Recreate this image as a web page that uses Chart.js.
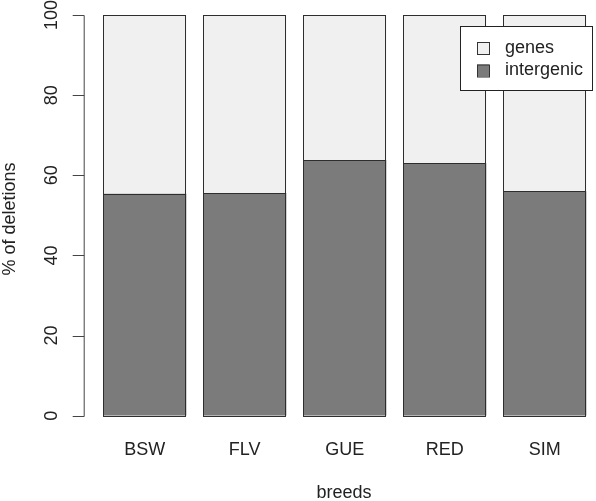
<!DOCTYPE html>
<html>
<head>
<meta charset="utf-8">
<script src="https://cdn.jsdelivr.net/npm/chart.js@4/dist/chart.umd.min.js"></script>
<style>
  html, body { margin: 0; padding: 0; background: #fff; }
  #wrap { width: 596px; height: 501px; }
</style>
</head>
<body>
<div id="wrap"><canvas id="chart" width="596" height="501"></canvas></div>
<script>
const breeds = ["BSW", "FLV", "GUE", "RED", "SIM"];
const intergenic = [55.4, 55.6, 63.8, 63.0, 56.0];
const genes = [44.6, 44.4, 36.2, 37.0, 44.0];
const yTicks = [0, 20, 40, 60, 80, 100];

const FONT = "Liberation Sans, Arial, sans-serif";

// crisp 1px outlines round each bar, like R's barplot
const barOutlinePlugin = {
  id: "barOutlinePlugin",
  afterDatasetsDraw: (chart) => {
    const { ctx } = chart;
    ctx.save();
    ctx.strokeStyle = "#2e2e2e";
    ctx.lineWidth = 1;
    chart.data.datasets.forEach((_ds, i) => {
      chart.getDatasetMeta(i).data.forEach((bar) => {
        const { x, y, base, width } = bar.getProps(["x", "y", "base", "width"], true);
        const l = Math.round(x - width / 2) + 0.5;
        const r = Math.round(x + width / 2) - 0.5;
        const t = Math.round(y) + 0.5;
        const b = Math.round(base) + 0.5;
        ctx.strokeRect(l, t, r - l, b - t);
      });
    });
    ctx.restore();
  },
};

// R base-graphics style axes, titles and legend
const rStylePlugin = {
  id: "rStylePlugin",
  afterDraw: (chart) => {
    const { ctx, chartArea, scales } = chart;
    const y = scales.y;
    const x = scales.x;
    const axisX = chartArea.left - 11;

    ctx.save();
    ctx.strokeStyle = "#444";
    ctx.lineWidth = 1;
    ctx.beginPath();
    ctx.moveTo(axisX + 0.5, Math.round(y.getPixelForValue(yTicks[0])) + 0.5);
    ctx.lineTo(axisX + 0.5, Math.round(y.getPixelForValue(yTicks[yTicks.length - 1])) + 0.5);
    yTicks.forEach((t) => {
      const py = Math.round(y.getPixelForValue(t)) + 0.5;
      ctx.moveTo(axisX + 0.5, py);
      ctx.lineTo(axisX - 11, py);
    });
    ctx.stroke();

    ctx.fillStyle = "#222";
    ctx.font = `18px ${FONT}`;
    ctx.textAlign = "center";
    ctx.textBaseline = "middle";
    yTicks.forEach((t) => {
      ctx.save();
      ctx.translate(axisX - 32, y.getPixelForValue(t));
      ctx.rotate(-Math.PI / 2);
      ctx.fillText(String(t), 0, 0);
      ctx.restore();
    });

    breeds.forEach((b, i) => {
      ctx.fillText(b, x.getPixelForValue(i), 450);
    });

    ctx.fillText("breeds", 344, 493);

    ctx.save();
    ctx.translate(10, 219);
    ctx.rotate(-Math.PI / 2);
    ctx.fillText("% of deletions", 0, 0);
    ctx.restore();

    // legend
    const lx = 460, ly = 26, lw = 132, lh = 64;
    ctx.fillStyle = "#fff";
    ctx.fillRect(lx, ly, lw, lh);
    ctx.strokeStyle = "#222";
    ctx.strokeRect(lx + 0.5, ly + 0.5, lw, lh);
    const items = [chart.data.datasets[1], chart.data.datasets[0]];
    items.forEach((ds, i) => {
      const cy = 48 + i * 22.5;
      ctx.fillStyle = ds.backgroundColor;
      ctx.fillRect(477, cy - 6, 12, 12);
      ctx.strokeStyle = "#333";
      ctx.strokeRect(477.5, cy - 5.5, 12, 12);
      ctx.fillStyle = "#222";
      ctx.textAlign = "left";
      ctx.fillText(ds.label, 505, cy);
    });
    ctx.restore();
  },
};

new Chart(document.getElementById("chart"), {
  type: "bar",
  data: {
    labels: breeds,
    datasets: [
      {
        label: "intergenic",
        data: intergenic,
        backgroundColor: "#7b7b7b",
        borderWidth: 0,
        barPercentage: 0.833,
        categoryPercentage: 1,
      },
      {
        label: "genes",
        data: genes,
        backgroundColor: "#f0f0f0",
        borderWidth: 0,
        barPercentage: 0.833,
        categoryPercentage: 1,
      },
    ],
  },
  options: {
    responsive: false,
    animation: false,
    layout: { padding: { left: 94.7, right: 1.3, top: 15, bottom: 85.3 } },
    plugins: { legend: { display: false }, tooltip: { enabled: false } },
    scales: {
      x: { stacked: true, display: false, offset: true },
      y: { stacked: true, display: false, min: 0, max: 100 },
    },
  },
  plugins: [barOutlinePlugin, rStylePlugin],
});
</script>
</body>
</html>
